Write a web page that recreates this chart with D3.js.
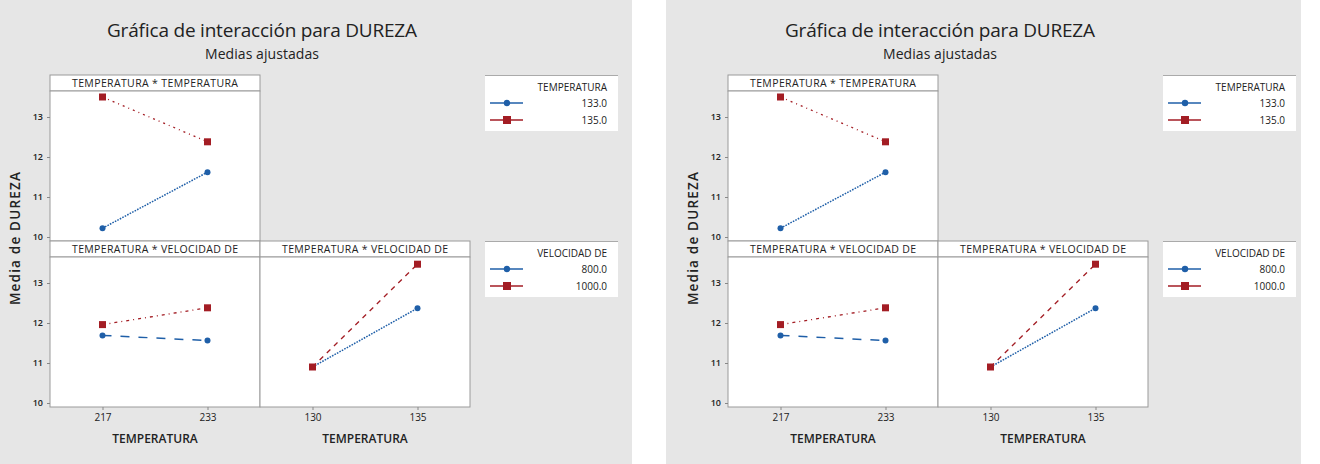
<!DOCTYPE html>
<html>
<head>
<meta charset="utf-8">
<script src="https://cdn.jsdelivr.net/npm/d3@7"></script>
<style>
  body { margin: 0; background: #ffffff; }
  svg text { font-family: "Open Sans", "Noto Sans", sans-serif; fill: #222; }
</style>
</head>
<body>
<script>
// ---- data ----
var xCatsLeft = ["217", "233"];
var xCatsRight = ["130", "135"];
var yTicks = [10, 11, 12, 13];

var legendTempTitle = "TEMPERATURA";
var legendTempLevels = ["133.0", "135.0"];
var legendVelTitle = "VELOCIDAD DE";
var legendVelLevels = ["800.0", "1000.0"];

// panel TEMPERATURA * TEMPERATURA
var ttBlue = [10.22, 11.62];
var ttRed = [13.50, 12.38];
// panel TEMPERATURA * VELOCIDAD DE (left column)
var tvLeftBlue = [11.69, 11.56];
var tvLeftRed = [11.96, 12.38];
// panel TEMPERATURA * VELOCIDAD DE (right column)
var tvRightBlue = [10.90, 12.37];
var tvRightRed = [10.90, 13.47];

var headers = ["TEMPERATURA * TEMPERATURA", "TEMPERATURA * VELOCIDAD DE", "TEMPERATURA * VELOCIDAD DE"];

var BLUE = "#1f5fa8";
var RED = "#a31d24";

window.onload = function () {
  var svg = d3.select("body").append("svg")
    .attr("width", 1320)
    .attr("height", 464);

  DrawChart(svg.append("g").attr("transform", "translate(0,0)"), 0, 632);
  DrawChart(svg.append("g").attr("transform", "translate(678,0)"), -12, 635);
};

function DrawChart(g, bgX, bgW) {
  g.append("rect").attr("x", bgX).attr("y", 0).attr("width", bgW).attr("height", 464).attr("fill", "#e6e6e6");

  g.append("text").attr("x", 262).attr("y", 37).attr("text-anchor", "middle")
    .style("font-size", "19px").style("font-weight", "500").attr("textLength", 310)
    .text("Gráfica de interacción para DUREZA");
  g.append("text").attr("x", 262).attr("y", 59).attr("text-anchor", "middle")
    .style("font-size", "14px").attr("textLength", 114)
    .text("Medias ajustadas");

  g.append("text").attr("transform", "translate(20,238) rotate(-90)")
    .attr("text-anchor", "middle").style("font-size", "13.5px").style("font-weight", "600")
    .style("letter-spacing", "1.2px")
    .text("Media de DUREZA");

  var colW = 210, hdrH = 16, plotH = 150;
  var y = d3.scaleLinear().domain([9.9, 13.65]);

  var panels = [
    { x: 50, top: 75, cats: xCatsLeft, blue: ttBlue, red: ttRed, head: headers[0],
      blueDash: "1.6,1.2", redDash: "2,4,1,4", yAxis: true, xAxis: false },
    { x: 50, top: 241, cats: xCatsLeft, blue: tvLeftBlue, red: tvLeftRed, head: headers[1],
      blueDash: "9,9", redDash: "3,4,1,4", yAxis: true, xAxis: true },
    { x: 260, top: 241, cats: xCatsRight, blue: tvRightBlue, red: tvRightRed, head: headers[2],
      blueDash: "1.6,1.2", redDash: "5,5", yAxis: false, xAxis: true }
  ];

  panels.forEach(function (p) {
    var pg = g.append("g").attr("transform", "translate(" + p.x + "," + p.top + ")");
    pg.append("rect").attr("width", colW).attr("height", hdrH)
      .attr("fill", "#ffffff").attr("stroke", "#9a9a9a");
    pg.append("text").attr("x", colW / 2).attr("y", 12).attr("text-anchor", "middle")
      .style("font-size", "10.5px").attr("textLength", 166).text(p.head);

    var plot = pg.append("g").attr("transform", "translate(0," + hdrH + ")");
    plot.append("rect").attr("width", colW).attr("height", plotH)
      .attr("fill", "#ffffff").attr("stroke", "#9a9a9a");

    var x = d3.scalePoint().domain(p.cats).range([0, colW]).padding(0.5);
    y.range([plotH, 0]);

    if (p.yAxis) {
      var ya = plot.append("g").call(d3.axisLeft(y).tickValues(yTicks).tickFormat(d3.format("d")).tickSize(3).tickPadding(4));
      ya.select(".domain").remove();
      ya.selectAll("line").attr("stroke", "#888");
      ya.selectAll("text").style("font-size", "9px").style("font-weight", "600").attr("fill", "#333");
    }
    if (p.xAxis) {
      var xa = plot.append("g").attr("transform", "translate(0," + plotH + ")")
        .call(d3.axisBottom(x).tickSize(3).tickPadding(4));
      xa.select(".domain").remove();
      xa.selectAll("line").attr("stroke", "#888");
      xa.selectAll("text").style("font-size", "10px").attr("fill", "#333");
      g.append("text").attr("x", p.x + colW / 2).attr("y", 443).attr("text-anchor", "middle")
        .style("font-size", "12px").style("font-weight", "600").text("TEMPERATURA");
    }

    var line = d3.line().x(function (d, i) { return x(p.cats[i]); }).y(function (d) { return y(d); });

    plot.append("path").datum(p.blue).attr("d", line).attr("fill", "none")
      .attr("stroke", BLUE).attr("stroke-width", 1.5).attr("stroke-dasharray", p.blueDash);
    plot.append("path").datum(p.red).attr("d", line).attr("fill", "none")
      .attr("stroke", RED).attr("stroke-width", 1.3).attr("stroke-dasharray", p.redDash);

    plot.selectAll(".bpt").data(p.blue).enter().append("circle")
      .attr("cx", function (d, i) { return x(p.cats[i]); })
      .attr("cy", function (d) { return y(d); })
      .attr("r", 3).attr("fill", BLUE);
    plot.selectAll(".rpt").data(p.red).enter().append("rect")
      .attr("x", function (d, i) { return x(p.cats[i]) - 3.5; })
      .attr("y", function (d) { return y(d) - 3.5; })
      .attr("width", 7).attr("height", 7).attr("fill", RED);
  });

  DrawLegend(g, 75, legendTempTitle, legendTempLevels);
  DrawLegend(g, 241, legendVelTitle, legendVelLevels);
}

function DrawLegend(g, top, title, levels) {
  var lg = g.append("g").attr("transform", "translate(485," + top + ")");
  lg.append("rect").attr("width", 133).attr("height", 56).attr("fill", "#ffffff");
  lg.append("line").attr("x1", 0).attr("x2", 133).attr("y1", 0.5).attr("y2", 0.5).attr("stroke", "#aaa");
  lg.append("text").attr("x", 122).attr("y", 16).attr("text-anchor", "end")
    .style("font-size", "10px").text(title);

  var rows = lg.selectAll(".row").data(levels).enter().append("g")
    .attr("transform", function (d, i) { return "translate(0," + (28 + i * 17) + ")"; });
  rows.append("line").attr("x1", 5).attr("x2", 38).attr("stroke-width", 1.5)
    .attr("stroke", function (d, i) { return i === 0 ? BLUE : RED; });
  rows.filter(function (d, i) { return i === 0; }).append("circle")
    .attr("cx", 22).attr("r", 3.2).attr("fill", BLUE);
  rows.filter(function (d, i) { return i === 1; }).append("rect")
    .attr("x", 18).attr("y", -4).attr("width", 8).attr("height", 8).attr("fill", RED);
  rows.append("text").attr("x", 122).attr("y", 3.5).attr("text-anchor", "end")
    .style("font-size", "10px").text(function (d) { return d; });
}
</script>
</body>
</html>
